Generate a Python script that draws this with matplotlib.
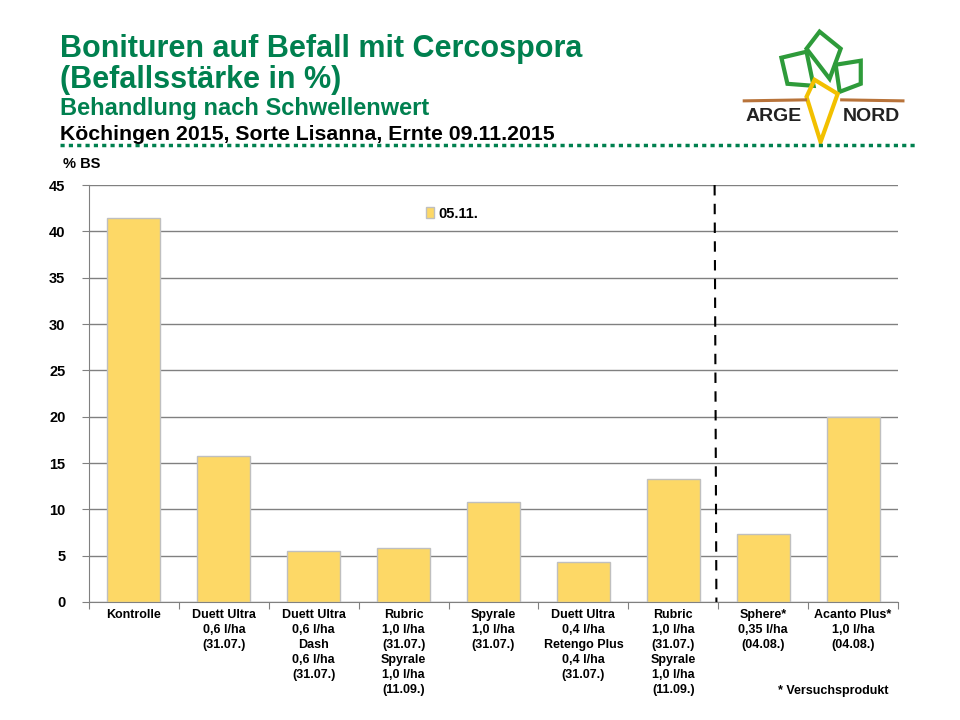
import matplotlib.pyplot as plt
from matplotlib.patches import Polygon, Rectangle
from matplotlib.lines import Line2D

categories = ["Kontrolle",
              "Duett Ultra\n0,6 l/ha\n(31.07.)",
              "Duett Ultra\n0,6 l/ha\nDash\n0,6 l/ha\n(31.07.)",
              "Rubric\n1,0 l/ha\n(31.07.)\nSpyrale\n1,0 l/ha\n(11.09.)",
              "Spyrale\n1,0 l/ha\n(31.07.)",
              "Duett Ultra\n0,4 l/ha\nRetengo Plus\n0,4 l/ha\n(31.07.)",
              "Rubric\n1,0 l/ha\n(31.07.)\nSpyrale\n1,0 l/ha\n(11.09.)",
              "Sphere*\n0,35 l/ha\n(04.08.)",
              "Acanto Plus*\n1,0 l/ha\n(04.08.)"]
befall_0511 = [41.4, 15.8, 5.5, 5.8, 10.8, 4.3, 13.3, 7.3, 20.0]
series_name = "05.11."
yticks = [0, 5, 10, 15, 20, 25, 30, 35, 40, 45]

green = "#00804F"
bar_col = "#FDD866"

plt.rcParams['font.family'] = ['Liberation Sans', 'DejaVu Sans']

fig = plt.figure(figsize=(9.6, 7.2), dpi=100)
ax = fig.add_axes([0.0927, 0.1639, 0.8427, 0.5791])

x = range(len(categories))
ax.bar(x, befall_0511, width=0.59, color=bar_col, edgecolor="#BFBFBF", linewidth=1, zorder=3)
ax.set_xlim(-0.5, len(categories) - 0.5)
ax.set_ylim(0, 45)
ax.set_yticks(yticks)
ax.set_yticklabels([str(v) for v in yticks], fontsize=10.5, fontweight="bold")
ax.yaxis.grid(True, color="#808080", linewidth=1, zorder=0)
ax.tick_params(axis="y", length=5, color="#808080", pad=12)
ax.set_xticks([i - 0.5 for i in range(len(categories) + 1)], minor=False)
ax.set_xticklabels([])
ax.tick_params(axis="x", length=5, color="#808080", direction="out")
ax.set_xticks(list(x), minor=True)
ax.set_xticklabels(categories, minor=True, fontsize=9, fontweight="bold", linespacing=1.33)
ax.tick_params(axis="x", which="minor", length=0, pad=5)
for s in ["top", "right"]:
    ax.spines[s].set_visible(False)
ax.spines["left"].set_color("#808080")
ax.spines["bottom"].set_color("#808080")

# separator between standard and trial products
ax.plot([6.46, 6.48], [45, 0], color="black", linestyle=(0, (5, 4)), linewidth=1.5,
        zorder=4, clip_on=False)

# legend
ax.legend([Rectangle((0, 0), 1, 1, facecolor=bar_col, edgecolor="#BFBFBF")], [series_name],
          loc="upper left", bbox_to_anchor=(0.4, 0.98), frameon=False, handlelength=0.6,
          handleheight=0.8, handletextpad=0.3, prop={"weight": "bold", "size": 10.5})

fig.text(0.066, 0.766, "% BS", fontsize=10.5, fontweight="bold")

# titles
fig.text(0.0625, 0.932, "Bonituren auf Befall mit Cercospora", fontsize=22,
         fontweight="bold", color=green, va="center")
fig.text(0.0625, 0.889, "(Befallsstärke in %)", fontsize=22, fontweight="bold",
         color=green, va="center")
fig.text(0.0625, 0.849, "Behandlung nach Schwellenwert", fontsize=17,
         fontweight="bold", color=green, va="center")
fig.text(0.0625, 0.813, "Köchingen 2015, Sorte Lisanna, Ernte 09.11.2015", fontsize=15.3,
         fontweight="bold", color="black", va="center")
fig.add_artist(Line2D([0.0625, 0.953], [0.799, 0.799], transform=fig.transFigure,
                      color=green, linestyle=(0, (1.2, 1.2)), linewidth=2.5))

fig.text(0.925, 0.036, "* Versuchsprodukt", fontsize=9, fontweight="bold", ha="right")

# simple ARGE NORD logo
lax = fig.add_axes([0.77, 0.80, 0.18, 0.17])
lax.set_xlim(740, 912)
lax.set_ylim(142, 20)
lax.axis("off")
lax.plot([745, 806], [99, 98], color="#B8733A", linewidth=2.2)
lax.plot([842, 903], [98, 99], color="#B8733A", linewidth=2.2)
leaves = [[(820, 30), (841, 47), (830, 77), (807, 47)],
          [(782, 56), (807, 50), (814, 84), (788, 82)],
          [(836, 63), (861, 59), (861, 82), (840, 90)]]
for pts in leaves:
    lax.add_patch(Polygon(pts, closed=True, fill=False, edgecolor="#2E9B3A", linewidth=3))
lax.add_patch(Polygon([(815, 78), (838, 92), (821, 140), (807, 95)], closed=True,
                      fill=False, edgecolor="#F2C000", linewidth=3))
lax.text(774, 115, "ARGE", fontsize=14, fontweight="heavy", color="#222222",
         ha="center", va="center")
lax.text(872, 115, "NORD", fontsize=14, fontweight="heavy", color="#222222",
         ha="center", va="center")

fig.savefig("out.png", dpi=100)
